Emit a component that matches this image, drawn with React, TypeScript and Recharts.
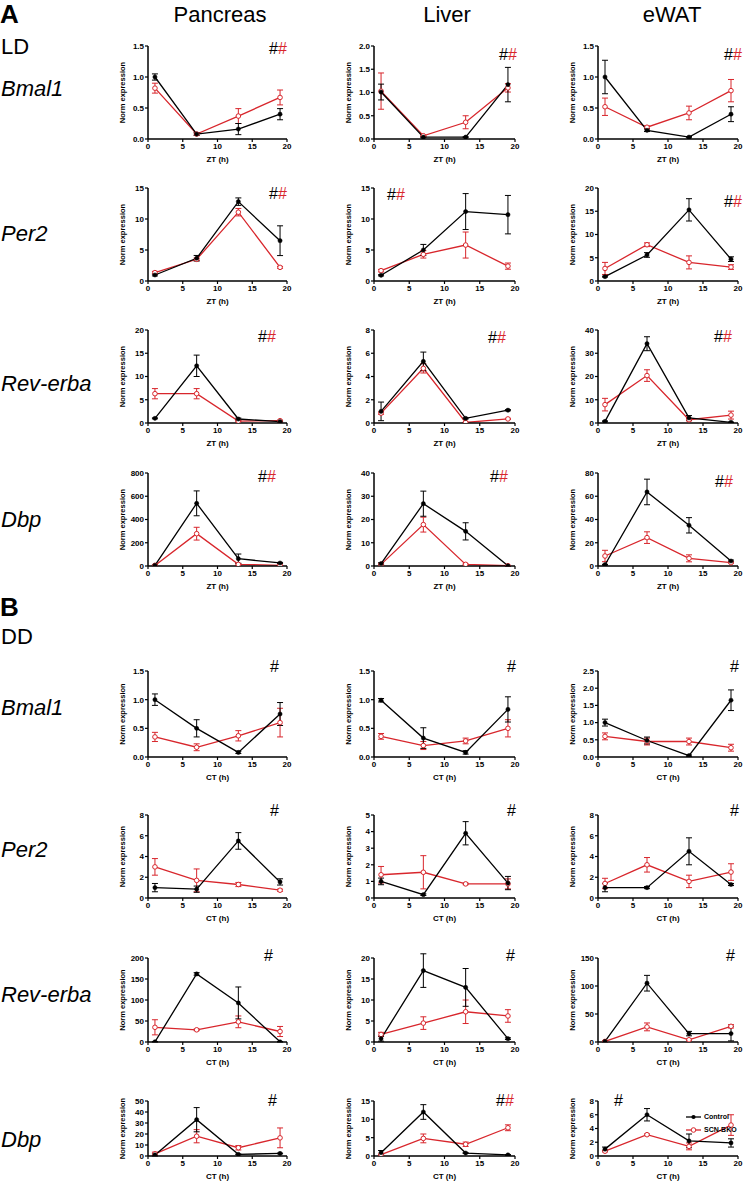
import React from 'react';
import { LineChart, Line, XAxis, YAxis, ErrorBar } from 'recharts';

const TIMES = [1, 7, 13, 19];
const X_TICKS = [0, 5, 10, 15, 20];
const RED = '#d8262c';
const FONT = '"Liberation Sans", Arial, Helvetica, sans-serif';

// each panel: [control mean, control SEM, SCN-BKO mean, SCN-BKO SEM] at TIMES
// LD
const ldPancBmal1 = [[1.0, 0.08, 0.16, 0.4], [0.05, 0.02, 0.09, 0.09], [0.82, 0.08, 0.37, 0.67], [0.08, 0.02, 0.12, 0.12]];
const ldLivBmal1 = [[1.01, 0.04, 0.04, 1.17], [0.17, 0.01, 0.01, 0.37], [1.03, 0.07, 0.36, 1.1], [0.39, 0.01, 0.14, 0.09]];
const ldWatBmal1 = [[1.0, 0.14, 0.03, 0.4], [0.27, 0.02, 0.01, 0.12], [0.52, 0.19, 0.42, 0.78], [0.14, 0.02, 0.11, 0.18]];
const ldPancPer2 = [[0.97, 3.67, 12.8, 6.5], [0.15, 0.45, 0.6, 2.4], [1.35, 3.5, 11.1, 2.2], [0.2, 0.2, 0.6, 0.15]];
const ldLivPer2 = [[0.92, 5.0, 11.2, 10.7], [0.1, 0.9, 2.9, 3.1], [1.67, 4.3, 5.8, 2.4], [0.2, 0.6, 2.1, 0.5]];
const ldWatPer2 = [[0.94, 5.6, 15.3, 4.7], [0.1, 0.5, 2.4, 0.5], [2.7, 7.8, 4.0, 3.0], [1.3, 0.4, 1.4, 0.5]];
const ldPancRev = [[1.0, 12.3, 0.86, 0.3], [0.1, 2.3, 0.2, 0.1], [6.3, 6.3, 0.4, 0.5], [1.1, 1.1, 0.1, 0.1]];
const ldLivRev = [[1.0, 5.3, 0.4, 1.1], [0.8, 0.8, 0.05, 0.05], [0.85, 4.7, 0.05, 0.35], [0.1, 0.4, 0.02, 0.05]];
const ldWatRev = [[0.7, 34.1, 2.2, 0.3], [0.2, 3.0, 1.0, 0.1], [7.9, 20.4, 1.4, 3.4], [2.7, 2.5, 0.5, 1.7]];
const ldPancDbp = [[6, 539, 63, 26], [2, 107, 40, 5], [5, 278, 14, 6], [2, 55, 5, 2]];
const ldLivDbp = [[1.0, 26.8, 14.9, 0.1], [0.4, 5.4, 3.7, 0.05], [0.7, 17.8, 0.7, 0.1], [0.2, 3.2, 0.2, 0.05]];
const ldWatDbp = [[1.1, 63.7, 35, 4.3], [0.3, 11, 6.6, 0.8], [8.6, 24.4, 6.6, 2.9], [4.9, 5, 3, 0.5]];
// DD
const ddPancBmal1 = [[1.0, 0.5, 0.08, 0.75], [0.1, 0.15, 0.02, 0.2], [0.35, 0.17, 0.37, 0.6], [0.08, 0.06, 0.09, 0.25]];
const ddLivBmal1 = [[0.99, 0.33, 0.08, 0.83], [0.03, 0.18, 0.03, 0.22], [0.36, 0.2, 0.28, 0.5], [0.05, 0.07, 0.05, 0.15]];
const ddWatBmal1 = [[1.0, 0.48, 0.04, 1.65], [0.1, 0.1, 0.02, 0.3], [0.6, 0.45, 0.45, 0.27], [0.1, 0.1, 0.1, 0.1]];
const ddPancPer2 = [[1.0, 0.85, 5.5, 1.55], [0.4, 0.3, 0.8, 0.3], [3.0, 1.7, 1.3, 0.75], [0.8, 1.1, 0.2, 0.1]];
const ddLivPer2 = [[1.0, 0.2, 3.9, 0.9], [0.2, 0.05, 0.7, 0.4], [1.4, 1.55, 0.85, 0.85], [0.5, 1.0, 0.05, 0.3]];
const ddWatPer2 = [[1.0, 1.0, 4.5, 1.3], [0.4, 0.1, 1.3, 0.1], [1.4, 3.2, 1.6, 2.5], [0.5, 0.7, 0.6, 0.8]];
const ddPancRev = [[0.5, 162, 93, 0.5], [0.2, 3, 38, 0.2], [35, 29, 48, 25], [18, 2, 14, 12]];
const ddLivRev = [[0.8, 17, 13, 0.8], [0.6, 4, 4.5, 0.2], [1.8, 4.5, 7.2, 6.2], [0.5, 1.5, 2.8, 1.5]];
const ddWatRev = [[1, 105, 15, 15], [0.5, 14, 4, 13], [1, 27, 4, 28], [0.5, 7, 1, 3]];
const ddPancDbp = [[1, 33, 1.5, 2.3], [1, 11, 0.3, 0.3], [2, 18, 7.5, 16.5], [1.5, 6, 2, 9]];
const ddLivDbp = [[0.9, 12, 0.8, 0.3], [0.6, 2, 0.1, 0.1], [0.4, 4.8, 3.2, 7.7], [0.1, 1.2, 0.6, 0.8]];
const ddWatDbp = [[1.0, 6.0, 2.2, 1.9], [0.3, 0.9, 1.0, 0.6], [0.7, 3.1, 1.4, 4.5], [0.1, 0.1, 0.5, 1.5]];

// y tick labels
const Y_1_5 = [0, 0.5, 1, 1.5];
const Y_2_0 = [0, 0.5, 1, 1.5, 2];
const Y_2_5 = [0, 0.5, 1, 1.5, 2, 2.5];
const Y_5 = [0, 1, 2, 3, 4, 5];
const Y_8 = [0, 2, 4, 6, 8];
const Y_15 = [0, 5, 10, 15];
const Y_20 = [0, 5, 10, 15, 20];
const Y_40 = [0, 10, 20, 30, 40];
const Y_50 = [0, 10, 20, 30, 40, 50];
const Y_80 = [0, 20, 40, 60, 80];
const Y_150 = [0, 50, 100, 150];
const Y_200 = [0, 50, 100, 150, 200];
const Y_800 = [0, 200, 400, 600, 800];

const COL_LEFT = [148, 374, 598];
const COL_W = [139, 141, 140];

// hash marks: [left x, center y, both colours]
const ROWS = [
  { top: 46, h: 93, gene: 'Bmal1', x: 'ZT (h)', data: [ldPancBmal1, ldLivBmal1, ldWatBmal1], ticks: [Y_1_5, Y_2_0, Y_1_5],
    hash: [[269, 49, true], [499, 55, true], [724, 55, true]] },
  { top: 188, h: 93, gene: 'Per2', x: 'ZT (h)', data: [ldPancPer2, ldLivPer2, ldWatPer2], ticks: [Y_15, Y_15, Y_20],
    hash: [[269, 194, true], [387, 195, true], [724, 202, true]] },
  { top: 330, h: 93, gene: 'Rev-erba', x: 'ZT (h)', data: [ldPancRev, ldLivRev, ldWatRev], ticks: [Y_20, Y_8, Y_40],
    hash: [[258, 337, true], [488, 338, true], [714, 337, true]] },
  { top: 473, h: 93, gene: 'Dbp', x: 'ZT (h)', data: [ldPancDbp, ldLivDbp, ldWatDbp], ticks: [Y_800, Y_40, Y_80],
    hash: [[258, 477, true], [490, 477, true], [715, 482, true]] },
  { top: 671, h: 86, gene: 'Bmal1', x: 'CT (h)', data: [ddPancBmal1, ddLivBmal1, ddWatBmal1], ticks: [Y_1_5, Y_1_5, Y_2_5],
    hash: [[270, 667, false], [507, 667, false], [730, 667, false]] },
  { top: 815, h: 83, gene: 'Per2', x: 'CT (h)', data: [ddPancPer2, ddLivPer2, ddWatPer2], ticks: [Y_8, Y_5, Y_8],
    hash: [[270, 811, false], [507, 811, false], [730, 811, false]] },
  { top: 958, h: 84, gene: 'Rev-erba', x: 'CT (h)', data: [ddPancRev, ddLivRev, ddWatRev], ticks: [Y_200, Y_20, Y_150],
    hash: [[264, 956, false], [506, 956, false], [726, 956, false]] },
  { top: 1101, h: 55, gene: 'Dbp', x: 'CT (h)', data: [ddPancDbp, ddLivDbp, ddWatDbp], ticks: [Y_50, Y_15, Y_8],
    hash: [[268, 1101, false], [496, 1101, true], [614, 1101, false]] },
];

const TICK = { fontSize: 8, fontWeight: 700, fill: '#000', fontFamily: FONT };
const AXIS_TITLE = { fontSize: 8, fontWeight: 700, fill: '#000', fontFamily: FONT };

function Panel({ left, top, w, h, ticks, values, xLabel }: any) {
  const [cm, cs, bm, bs] = values;
  const ctrl = TIMES.map((x, i) => ({ x, y: cm[i], e: cs[i] }));
  const bko = TIMES.map((x, i) => ({ x, y: bm[i], e: bs[i] }));
  const dec = ticks.some((t: number) => !Number.isInteger(t));
  return (
    <div style={{ position: 'absolute', left: left - 52, top: top - 6 }}>
      <LineChart width={w + 58} height={h + 32} margin={{ top: 6, right: 6, left: 0, bottom: 0 }}>
        <XAxis
          type="number"
          dataKey="x"
          domain={[0, 20]}
          ticks={X_TICKS}
          interval={0}
          allowDataOverflow
          height={26}
          tickSize={3}
          tickMargin={1}
          axisLine={{ stroke: '#000', strokeWidth: 1.5 }}
          tickLine={{ stroke: '#000', strokeWidth: 1.2 }}
          tick={TICK}
          label={{ value: xLabel, position: 'insideBottom', offset: 3, style: AXIS_TITLE }}
        />
        <YAxis
          type="number"
          domain={[0, ticks[ticks.length - 1]]}
          ticks={ticks}
          interval={0}
          allowDataOverflow
          width={52}
          tickSize={3}
          tickMargin={1}
          axisLine={{ stroke: '#000', strokeWidth: 1.5 }}
          tickLine={{ stroke: '#000', strokeWidth: 1.2 }}
          tick={TICK}
          tickFormatter={(v: number) => (dec ? v.toFixed(1) : String(v))}
          label={{ value: 'Norm expression', angle: -90, position: 'center', style: { ...AXIS_TITLE, fontSize: 7.5 } }}
        />
        <Line
          data={bko}
          dataKey="y"
          stroke={RED}
          strokeWidth={1.3}
          dot={{ r: 2.3, fill: '#fff', stroke: RED, strokeWidth: 1 }}
          activeDot={false}
          isAnimationActive={false}
        >
          <ErrorBar dataKey="e" width={3} stroke={RED} strokeWidth={1} isAnimationActive={false} />
        </Line>
        <Line
          data={ctrl}
          dataKey="y"
          stroke="#000"
          strokeWidth={1.3}
          dot={{ r: 2.1, fill: '#000', stroke: '#000', strokeWidth: 0.5 }}
          activeDot={false}
          isAnimationActive={false}
        >
          <ErrorBar dataKey="e" width={3} stroke="#000" strokeWidth={1} isAnimationActive={false} />
        </Line>
      </LineChart>
    </div>
  );
}

const txt = (left: number, top: number, size: number, extra: React.CSSProperties = {}): React.CSSProperties => ({
  position: 'absolute',
  left,
  top,
  fontSize: size,
  lineHeight: 1,
  fontFamily: FONT,
  color: '#000',
  whiteSpace: 'nowrap',
  ...extra,
});

const HEADINGS: [string, number][] = [['Pancreas', 220], ['Liver', 447], ['eWAT', 672]];
const GENE_TOPS = [78, 223, 373, 509, 697, 839, 984, 1129];

export default function App() {
  return (
    <div style={{ position: 'absolute', left: 0, top: 0, width: 747, height: 1181, background: '#fff', overflow: 'hidden' }}>
      <div style={txt(0, 1, 26, { fontWeight: 700 })}>A</div>
      <div style={txt(0, 594, 26, { fontWeight: 700 })}>B</div>
      <div style={txt(1, 36, 22)}>LD</div>
      <div style={txt(1, 626, 22)}>DD</div>
      {HEADINGS.map(([name, cx]) => (
        <div key={name} style={txt(cx - 60, 4, 22, { width: 120, textAlign: 'center' })}>{name}</div>
      ))}
      {ROWS.map((row, r) => (
        <div key={'g' + r} style={txt(1, GENE_TOPS[r], 22, { fontStyle: 'italic' })}>{row.gene}</div>
      ))}
      {ROWS.map((row, r) =>
        row.data.map((values, c) => (
          <Panel
            key={r + '-' + c}
            left={COL_LEFT[c]}
            top={row.top}
            w={COL_W[c]}
            h={row.h}
            ticks={row.ticks[c]}
            values={values}
            xLabel={row.x}
          />
        ))
      )}
      {ROWS.map((row, r) =>
        row.hash.map(([hx, hy, both], c) => (
          <div key={'h' + r + c} style={txt(hx as number, (hy as number) - 8, 16)}>
            #{both ? <span style={{ color: RED }}>#</span> : null}
          </div>
        ))
      )}
      <div style={{ position: 'absolute', left: 686, top: 1110, fontFamily: FONT, fontSize: 7, fontWeight: 700, lineHeight: '13px' }}>
        <div style={{ display: 'flex', alignItems: 'center' }}>
          <svg width={15} height={8}>
            <line x1={0} y1={4} x2={15} y2={4} stroke="#000" strokeWidth={1.3} />
            <circle cx={7.5} cy={4} r={2.1} fill="#000" />
          </svg>
          <span style={{ marginLeft: 3 }}>Control</span>
        </div>
        <div style={{ display: 'flex', alignItems: 'center' }}>
          <svg width={15} height={8}>
            <line x1={0} y1={4} x2={15} y2={4} stroke={RED} strokeWidth={1.3} />
            <circle cx={7.5} cy={4} r={2.3} fill="#fff" stroke={RED} strokeWidth={1} />
          </svg>
          <span style={{ marginLeft: 3 }}>SCN-BKO</span>
        </div>
      </div>
    </div>
  );
}
